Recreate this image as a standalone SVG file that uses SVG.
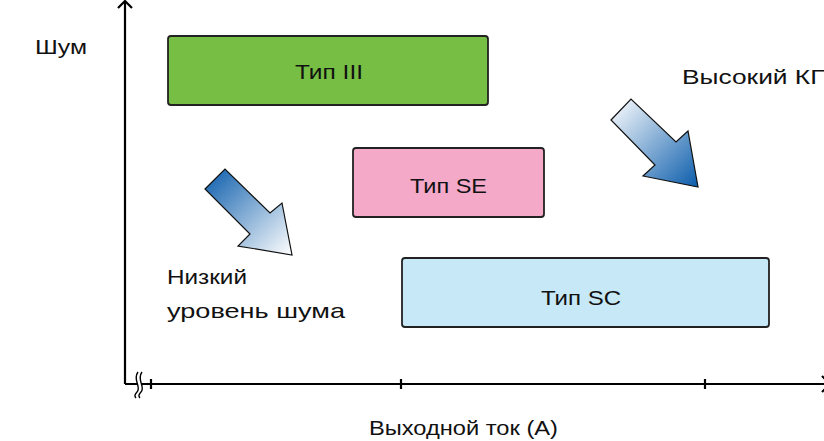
<svg xmlns="http://www.w3.org/2000/svg" width="824" height="441" viewBox="0 0 824 441">
<style>
text{font-family:"Liberation Sans",Arial,sans-serif;font-size:21px;fill:#111}
.box{stroke:#222;stroke-width:1.8}
.axis{stroke:#000;stroke-width:2.2;fill:none}
.arr{stroke:#111;stroke-width:1.2}
</style>
<defs>
<linearGradient id="gDown" x1="0" y1="0" x2="1" y2="1">
<stop offset="0" stop-color="#ffffff"/>
<stop offset="1" stop-color="#0a5cab"/>
</linearGradient>
<linearGradient id="gUp" x1="0" y1="0" x2="1" y2="1">
<stop offset="0" stop-color="#0a5cab"/>
<stop offset="1" stop-color="#ffffff"/>
</linearGradient>
</defs>
<rect width="824" height="441" fill="#fff"/>
<g id="axes">
<path class="axis" d="M125,384 V1"/>
<path class="axis" d="M118,8 L125,1 L132,8"/>
<path class="axis" d="M125,384 H830"/>
<path class="axis" d="M822,376 L830,384 L822,392"/>
<path d="M151,379 V389 M401,379 V389 M705,379 V389" stroke="#000" stroke-width="2.2"/>
<rect x="137" y="378" width="5" height="12" fill="#fff"/>
<path d="M138,372 C132,380 142,387 137,392 C134,395 135,397 136,398 M142,372 C136,380 146,387 141,392 C138,395 139,397 140,398" fill="none" stroke="#000" stroke-width="1.4"/>
</g>
<text x="35" y="54" textLength="52" lengthAdjust="spacingAndGlyphs">Шум</text>
<text x="369" y="435" textLength="189" lengthAdjust="spacingAndGlyphs">Выходной ток (А)</text>
<g id="type3">
<rect class="box" x="168" y="36" width="320" height="69" rx="3" fill="#76bf44"/>
<text x="295" y="79" textLength="68" lengthAdjust="spacingAndGlyphs">Тип III</text>
</g>
<g id="typeSE">
<rect class="box" x="353" y="148" width="191" height="69" rx="3" fill="#f4a9c9"/>
<text x="410" y="193" textLength="77" lengthAdjust="spacingAndGlyphs">Тип SE</text>
</g>
<g id="typeSC">
<rect class="box" x="402" y="258" width="367" height="69" rx="3" fill="#c6e8f7"/>
<text x="541" y="305" textLength="80" lengthAdjust="spacingAndGlyphs">Тип SC</text>
</g>
<g id="highEff">
<polygon class="arr" points="611,120 631,99 676,142 688,131 698,187 643,176 655,165" fill="url(#gDown)"/>
<text x="682" y="84" textLength="165" lengthAdjust="spacingAndGlyphs">Высокий КПД</text>
</g>
<g id="lowNoise">
<polygon class="arr" points="205,189 225,169 270,213 282,203 292,255 238,246 250,234" fill="url(#gUp)"/>
<text x="167" y="284" textLength="80" lengthAdjust="spacingAndGlyphs">Низкий</text>
<text x="167" y="318" textLength="178" lengthAdjust="spacingAndGlyphs">уровень шума</text>
</g>
</svg>
